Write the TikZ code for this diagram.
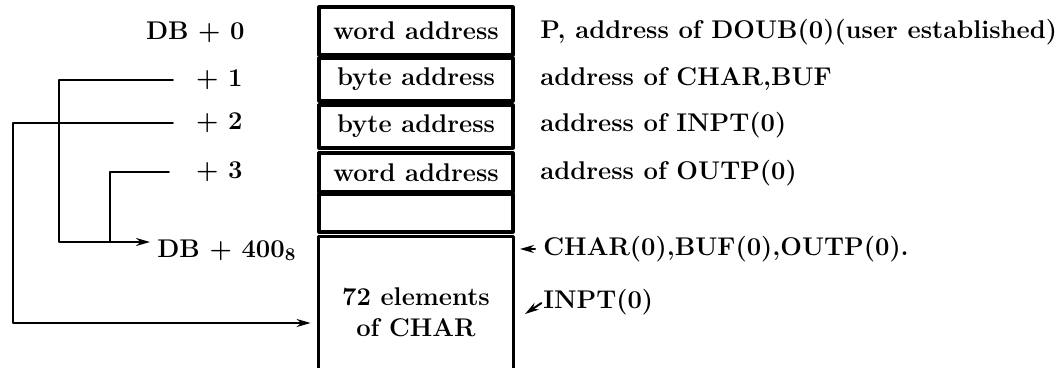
\documentclass[tikz,border=0pt]{standalone}
\usepackage{tikz}
\usetikzlibrary{arrows.meta}
\begin{document}
\begin{tikzpicture}[x=0.5pt,y=-0.5pt,>={Stealth[length=7pt,width=4pt]},line cap=round,line join=round,
  every node/.style={font=\fontsize{12.8}{15.5}\selectfont\bfseries,inner sep=0pt},
  cell/.style={draw,line width=1.6pt,minimum width=97pt},
  link/.style={line width=1pt}]
\useasboundingbox (0,0) rectangle (1063,368);
\node[cell,minimum height=24pt] (c0) at (416,31) {word address};
\node[cell,minimum height=21.5pt] (c1) at (416,79.5) {byte address};
\node[cell,minimum height=21.5pt] (c2) at (416,126.5) {byte address};
\node[cell,minimum height=19.5pt] (c3) at (416,172.5) {word address};
\node[cell,minimum height=19pt] (c4) at (416,213) {};
\node[minimum width=97pt,minimum height=65.5pt] (c5) at (416,302.5) {};
\draw[line width=1.6pt] (c5.south west) -- (c5.north west) -- (c5.north east) -- (c5.south east);
\node[align=center] (chr) at (416,312) {72 elements\\of CHAR};
\node[anchor=east] (d0) at (245,32) {DB + 0};
\node[anchor=east] (p1) at (243,80) {+ 1};
\node[anchor=east] (p2) at (243,123) {+ 2};
\node[anchor=east] (p3) at (243,172) {+ 3};
\node[anchor=base west] (db4) at (157,257) {DB + 400\textsubscript{8}};
\coordinate (k1) at (59,242);
\coordinate (k2) at (13,323);
\coordinate (k3) at (110,242);
\draw[link,->,shorten <=11.5pt,shorten >=3.5pt] (p1.west) -| (k1) -- (k1 -| db4.west);
\draw[link,shorten <=13.5pt] (p3.west) -| (k3);
\draw[link,->,shorten <=11.5pt,shorten >=4pt] (p2.west) -| (k2) -- (k2 -| c5.west);
\node[anchor=west] (r0) at (540,32) {P, address of DOUB(0)(user established)};
\node[anchor=west] (r1) at (540,79) {address of CHAR,BUF};
\node[anchor=west] (r2) at (540,125) {address of INPT(0)};
\node[anchor=west] (r3) at (540,173) {address of OUTP(0)};
\node[anchor=west] (lc) at (543,249) {CHAR(0),BUF(0),OUTP(0).};
\node[anchor=west] (li) at (543,302) {INPT(0)};
\coordinate (t1) at (520,249);
\coordinate (t2) at (525,314);
\draw[link,->,shorten <=4pt] (lc.west) -- (t1);
\draw[link,->,shorten <=1pt] (li.west) -- (t2);
\end{tikzpicture}
\end{document}
